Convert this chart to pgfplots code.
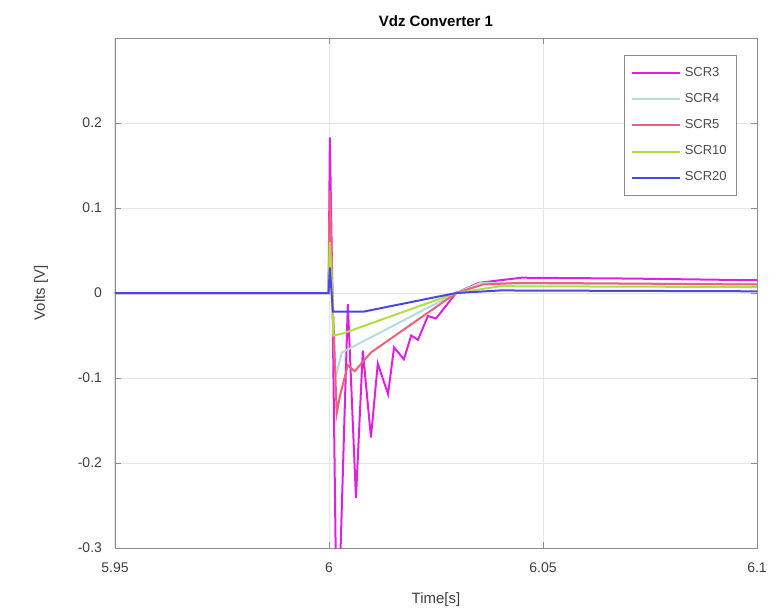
\documentclass[border=0pt]{standalone}
\usepackage{fontspec}
\setmainfont{Liberation Sans}
\usepackage{pgfplots}
\pgfplotsset{compat=1.18}
\definecolor{cThree}{HTML}{E020E0}
\definecolor{cFour}{HTML}{B4DCDC}
\definecolor{cFive}{HTML}{F0607A}
\definecolor{cTen}{HTML}{B0E040}
\definecolor{cTwenty}{HTML}{4848E8}
\definecolor{gridc}{HTML}{E6E6E6}
\definecolor{axc}{HTML}{8C8C8C}

\begin{document}
\begin{tikzpicture}
\begin{axis}[
  at={(0,0)}, anchor=south west,
  scale only axis, width=321pt, height=255pt,
  xmin=5.95, xmax=6.1, ymin=-0.3, ymax=0.3,
  xtick={5.95,6,6.05,6.1}, xticklabels={5.95,6,6.05,6.1},
  ytick={-0.3,-0.2,-0.1,0,0.1,0.2},
  yticklabels={-0.3,-0.2,-0.1,0,0.1,0.2},
  grid=major, major grid style={gridc, line width=0.5pt},
  axis line style={axc}, tick style={axc}, tick align=inside,
  major tick length=3pt,
  tick label style={font=\fontsize{7}{8}\selectfont, text=black!75},
  xticklabel style={yshift=-4pt}, yticklabel style={xshift=-3pt},
  /pgf/number format/assume math mode=true,
  title={\bfseries Vdz Converter 1}, title style={font=\fontsize{7.5}{9}\selectfont, yshift=-4pt},
  xlabel={Time[s]}, ylabel={Volts [V]},
  label style={font=\fontsize{7.5}{9}\selectfont, text=black!75},
  xlabel style={yshift=-3pt}, ylabel style={yshift=8pt},
  legend style={at={(0.969,0.967)}, anchor=north east, draw=axc,
    font=\fontsize{6.5}{8}\selectfont, text=black!70, row sep=3pt,
    inner xsep=3pt, inner ysep=4pt},
  legend cell align=left,
  legend image code/.code={\draw[#1] (0pt,0pt) -- (24pt,0pt);},
  every axis plot/.append style={line width=1pt},
]
\addplot[cThree] coordinates {
 (5.95,0) (5.9999,0) (6.0002,0.183) (6.0008,0) (6.0016,-0.32) (6.0026,-0.32)
 (6.0044,-0.013) (6.0063,-0.241) (6.0079,-0.068) (6.0098,-0.17) (6.0114,-0.083)
 (6.0138,-0.119) (6.0152,-0.064) (6.0175,-0.078) (6.0192,-0.05) (6.0208,-0.055)
 (6.0231,-0.027) (6.025,-0.03) (6.0297,0) (6.035,0.012) (6.045,0.018) (6.07,0.017) (6.1,0.015)};
\addplot[cFour] coordinates {
 (5.95,0) (5.9999,0) (6.0002,0.09) (6.0008,0) (6.0015,-0.1) (6.003,-0.07)
 (6.0297,0) (6.0355,0.012) (6.045,0.011) (6.1,0.011)};
\addplot[cFive] coordinates {
 (5.95,0) (5.9999,0) (6.0002,0.12) (6.0008,0) (6.0018,-0.142) (6.0026,-0.12)
 (6.0044,-0.085) (6.006,-0.092) (6.0098,-0.07) (6.0297,0) (6.036,0.01) (6.045,0.012) (6.1,0.01)};
\addplot[cTen] coordinates {
 (5.95,0) (5.9999,0) (6.0002,0.06) (6.0008,0) (6.001,-0.05) (6.003,-0.048)
 (6.0297,0) (6.04,0.008) (6.1,0.007)};
\addplot[cTwenty] coordinates {
 (5.95,0) (5.9999,0) (6.0002,0.03) (6.0009,-0.022) (6.008,-0.022)
 (6.0297,0) (6.04,0.003) (6.1,0.002)};
\legend{SCR3,SCR4,SCR5,SCR10,SCR20}
\end{axis}
\pgfresetboundingbox
\path (-57.5pt,-31pt) rectangle (333pt,274pt);
\end{tikzpicture}
\end{document}
